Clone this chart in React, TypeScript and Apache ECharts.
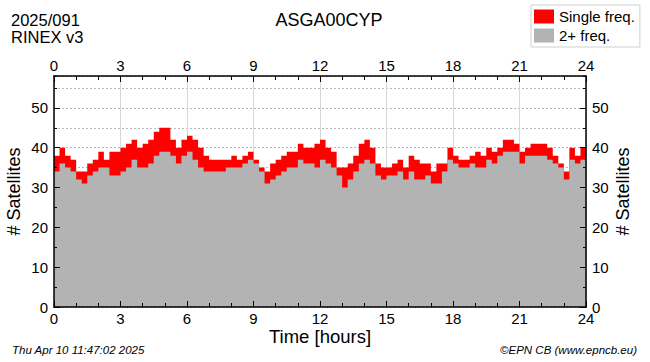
import React, { useEffect, useRef } from 'react';
import * as echarts from 'echarts';

// 15-minute bins over the day (hours)
const binHours = 0.25;

// total satellites tracked (top of red band)
const totalSats = [
  38, 40, 38, 37, 34, 34, 36, 37, 39, 37,
  39, 39, 40, 41, 42, 40, 41, 42, 44, 45,
  45, 42, 40, 42, 43, 42, 40, 38, 37, 37,
  37, 37, 38, 37, 38, 39, 37, 35, 34, 36,
  37, 38, 39, 39, 41, 40, 40, 41, 42, 40,
  39, 35, 35, 36, 38, 41, 42, 40, 36, 35,
  35, 36, 37, 35, 38, 37, 36, 36, 34, 36,
  36, 40, 38, 37, 37, 38, 39, 38, 40, 39,
  40, 42, 42, 41, 39, 40, 41, 41, 41, 40,
  38, 36, 34, 40, 38, 40,
];

// satellites with 2+ frequencies (top of gray band)
const dualFreqSats = [
  34, 36, 35, 34, 32, 31, 33, 34, 35, 35,
  33, 33, 34, 35, 37, 35, 35, 36, 38, 39,
  39, 38, 36, 38, 39, 37, 35, 34, 34, 34,
  34, 35, 35, 35, 36, 37, 36, 34, 31, 32,
  33, 34, 35, 35, 37, 36, 36, 35, 37, 36,
  35, 33, 30, 32, 34, 36, 37, 36, 33, 32,
  33, 33, 34, 32, 34, 32, 32, 33, 31, 31,
  34, 37, 36, 35, 35, 36, 35, 35, 37, 36,
  38, 39, 39, 39, 36, 38, 38, 38, 38, 37,
  36, 35, 32, 37, 36, 37,
];

const seriesNames = ['Single freq.', '2+ freq.'];
const headerLines = ['2025/091', 'RINEX v3'];
const stationName = 'ASGA00CYP';
const xAxisTitle = 'Time [hours]';
const yAxisTitle = '# Satellites';
const footerLeft = 'Thu Apr 10 11:47:02 2025';
const footerRight = '\u00A9EPN CB (www.epncb.eu)';

const FONT = '"Liberation Sans", Arial, Helvetica, sans-serif';

function toSteps(vals: number[]) {
  const pts: number[][] = vals.map((v, i) => [i * binHours, v]);
  pts.push([vals.length * binHours, vals[vals.length - 1]]);
  return pts;
}

export default function App() {
  const ref = useRef<HTMLDivElement>(null);

  useEffect(() => {
    if (!ref.current) return;
    const chart = echarts.init(ref.current, undefined, { renderer: 'svg' });

    const black = '#000';
    const lineW = 1.5;
    const xBase = {
      type: 'value', gridIndex: 0, min: 0, max: 24, interval: 3,
    };
    const yBase = {
      type: 'value', gridIndex: 0, min: 0, max: 58,
    };
    const tickAxisX = (pos: string, margin: number) => ({
      ...xBase, position: pos, z: 5,
      axisLine: { show: true, onZero: false, lineStyle: { color: black, width: lineW } },
      axisTick: { show: true, inside: true, length: 6, lineStyle: { color: black } },
      minorTick: { show: true, splitNumber: 3, length: 4, lineStyle: { color: black } },
      axisLabel: { show: true, color: black, fontSize: 15, lineHeight: 13, fontFamily: FONT, margin },
      splitLine: { show: false },
    });
    const tickAxisY = (pos: string, gap: number) => ({
      ...yBase, position: pos, interval: 10, z: 5,
      axisLine: { show: true, onZero: false, lineStyle: { color: black, width: lineW } },
      axisTick: { show: true, inside: true, length: 6, lineStyle: { color: black } },
      axisLabel: { show: true, color: black, fontSize: 15, fontFamily: FONT, margin: 6, showMaxLabel: false },
      splitLine: { show: false },
      name: yAxisTitle, nameLocation: 'middle', nameGap: gap, nameRotate: 90,
      nameMoveOverlap: false,
      nameTextStyle: { fontSize: 18, color: black, fontFamily: FONT },
    });
    const minorAxisY = (pos: string) => ({
      ...yBase, position: pos, interval: 5, z: 5,
      axisLine: { show: false, onZero: false },
      axisTick: { show: true, inside: true, length: 3, lineStyle: { color: black } },
      axisLabel: { show: false },
      splitLine: { show: false },
    });

    chart.setOption({
      animation: false,
      backgroundColor: '#fff',
      grid: { left: 54, right: 64, top: 76, bottom: 55, containLabel: false, outerBoundsMode: 'none' },
      legend: {
        orient: 'vertical', left: 531, top: 5,
        itemWidth: 20, itemHeight: 14, itemGap: 4,
        padding: [4, 5, 4, 3],
        borderColor: '#cfcfcf', borderWidth: 1, backgroundColor: '#fff',
        icon: 'rect',
        textStyle: { fontSize: 15, fontFamily: FONT, color: black },
        data: seriesNames,
      },
      xAxis: [
        {
          ...tickAxisX('bottom', 5),
          name: xAxisTitle, nameLocation: 'middle', nameGap: 21, nameMoveOverlap: false,
          nameTextStyle: { fontSize: 18.5, lineHeight: 16, color: black, fontFamily: FONT },
        },
        tickAxisX('top', 4),
        {
          ...xBase, position: 'bottom', z: 0,
          axisLine: { show: false, onZero: false }, axisTick: { show: false },
          axisLabel: { show: false },
          splitLine: { show: true, lineStyle: { color: '#d8d8d8', width: 1 } },
        },
      ],
      yAxis: [
        tickAxisY('left', 31),
        tickAxisY('right', 28),
        {
          ...yBase, position: 'left', interval: 5, z: 0,
          axisLine: { show: false, onZero: false }, axisTick: { show: false },
          axisLabel: { show: false },
          splitLine: { show: true, lineStyle: { color: '#b8b8b8', width: 1, type: [2, 2] } },
        },
        minorAxisY('left'),
        minorAxisY('right'),
      ],
      series: [
        {
          name: seriesNames[0], type: 'line', step: 'end', xAxisIndex: 0, yAxisIndex: 0,
          data: toSteps(totalSats), showSymbol: false, z: 2,
          itemStyle: { color: '#ff0000' },
          lineStyle: { width: 0, color: '#ff0000' },
          areaStyle: { color: '#ff0000', opacity: 1 },
        },
        {
          name: seriesNames[1], type: 'line', step: 'end', xAxisIndex: 0, yAxisIndex: 0,
          data: toSteps(dualFreqSats), showSymbol: false, z: 3,
          itemStyle: { color: '#b3b3b3' },
          lineStyle: { width: 0, color: '#b3b3b3' },
          areaStyle: { color: '#b3b3b3', opacity: 1 },
        },
      ],
      graphic: [
        { type: 'text', x: 11, y: 11, style: { text: headerLines[0], fill: black, font: `16.5px ${FONT}`, textVerticalAlign: 'top', verticalAlign: 'top' } },
        { type: 'text', x: 11, y: 28, style: { text: headerLines[1], fill: black, font: `16.5px ${FONT}`, textVerticalAlign: 'top', verticalAlign: 'top' } },
        { type: 'text', x: 329, y: 20, style: { text: stationName, fill: black, font: `18px ${FONT}`, textAlign: 'center', align: 'center', textVerticalAlign: 'middle', verticalAlign: 'middle' } },
        { type: 'text', x: 12, y: 350, style: { text: footerLeft, fill: black, font: `italic 11.5px ${FONT}`, textVerticalAlign: 'middle', verticalAlign: 'middle' } },
        { type: 'text', x: 637, y: 350, style: { text: footerRight, fill: black, font: `italic 11.5px ${FONT}`, textAlign: 'right', align: 'right', textVerticalAlign: 'middle', verticalAlign: 'middle' } },
      ],
    });

    return () => chart.dispose();
  }, []);

  return (
    <div
      ref={ref}
      style={{ position: 'absolute', left: 0, top: 0, width: 650, height: 362, background: '#fff' }}
    />
  );
}
